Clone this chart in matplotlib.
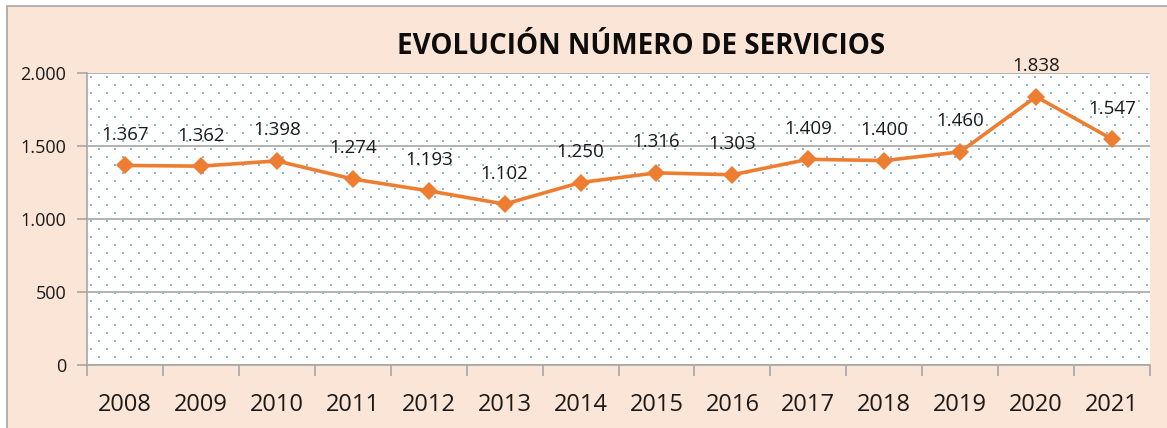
import matplotlib
matplotlib.use("Agg")
import matplotlib.pyplot as plt
import numpy as np
from matplotlib.patches import Rectangle
from matplotlib.ticker import FuncFormatter, FixedLocator

years = ["2008", "2009", "2010", "2011", "2012", "2013", "2014",
         "2015", "2016", "2017", "2018", "2019", "2020", "2021"]
services = [1367, 1362, 1398, 1274, 1193, 1102, 1250,
            1316, 1303, 1409, 1400, 1460, 1838, 1547]
y_ticks = [0, 500, 1000, 1500, 2000]
title = "EVOLUCIÓN NÚMERO DE SERVICIOS"

W, H = 1167, 428
plt.rcParams['font.family'] = ['Open Sans', 'DejaVu Sans']
fig = plt.figure(figsize=(W / 100, H / 100), dpi=100, facecolor="white")

# chart area background
bg = Rectangle((7 / W, -0.1), 1.2, (H - 6) / H + 0.1, transform=fig.transFigure,
               facecolor="#FBE5D6", edgecolor="#A6A6A6", linewidth=1.2, zorder=-10)
fig.add_artist(bg)

left, right, top, bottom = 87, 1150, 73, 365
ax = fig.add_axes([left / W, (H - bottom) / H, (right - left) / W, (bottom - top) / H])
ax.set_zorder(1)
ax.set_facecolor("white")

# dotted fill pattern
pw, ph = right - left, bottom - top
xs, ys = [], []
for r, yy in enumerate(np.arange(4, ph, 8)):
    off = 4 if r % 2 == 0 else 12
    for xx in np.arange(off, pw, 16):
        xs.append(xx / pw)
        ys.append(1 - yy / ph)
ax.scatter(xs, ys, s=3.2, marker='s', color="#8DB8E6", linewidths=0,
           transform=ax.transAxes, zorder=0.5, clip_on=True)

x = np.arange(len(years))
ax.set_xlim(-0.5, len(years) - 0.5)
ax.set_ylim(0, 2000)

ax.yaxis.set_major_locator(FixedLocator(y_ticks))
ax.yaxis.set_major_formatter(FuncFormatter(lambda v, p: f"{int(v):,}".replace(",", ".")))
ax.grid(axis='y', color="#A6A6A6", linewidth=1.2, zorder=1)
ax.set_axisbelow(True)

ax.set_xticks(np.arange(-0.5, len(years)), labels=[""] * (len(years) + 1))
ax.set_xticks(x, labels=years, minor=True)
ax.tick_params(axis='x', which='major', length=8, width=1.2, color="#A6A6A6", direction='out')
ax.tick_params(axis='x', which='minor', length=0, pad=20, labelsize=17, labelcolor="#1a1a1a")
ax.tick_params(axis='y', length=7, width=1.2, color="#A6A6A6", pad=8, labelsize=13,
               labelcolor="#1a1a1a")

for s in ["top", "right"]:
    ax.spines[s].set_visible(False)
for s in ["left", "bottom"]:
    ax.spines[s].set_color("#A6A6A6")
    ax.spines[s].set_linewidth(1.2)

ax.plot(x, services, color="#ED7D31", linewidth=2.6, marker='D', markersize=9,
        markeredgewidth=0, zorder=3, clip_on=False)

for xi, v in zip(x, services):
    ax.annotate(f"{v:,}".replace(",", "."), (xi, v), xytext=(0, 22), textcoords='offset points',
                ha='center', va='center', fontsize=13.5, color="#1a1a1a", zorder=4,
                annotation_clip=False)

fig.text(641 / W, 1 - 47 / H, title, ha='center', va='center', fontsize=20,
         fontweight='bold', color="#0d0d0d")

fig.savefig("out.png", dpi=100, facecolor=fig.get_facecolor())
